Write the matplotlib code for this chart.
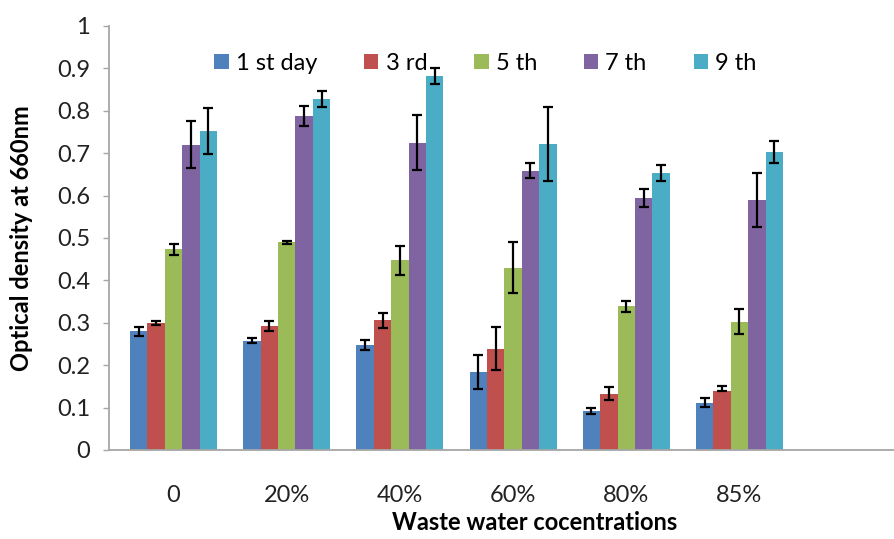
import numpy as np
import matplotlib
matplotlib.use("Agg")
import matplotlib.pyplot as plt

plt.rcParams['font.family'] = ['Lato', 'DejaVu Sans']

# waste water concentration groups
groups = ['0', '20%', '40%', '60%', '80%', '85%']
days = ['1 st day', '3 rd', '5 th', '7 th', '9 th']
colors = ['#4F81BD', '#C0504D', '#9BBB59', '#8064A2', '#4BACC6']

# optical density at 660nm, one list per day
day1 = [0.280, 0.258, 0.248, 0.185, 0.092, 0.112]
day3 = [0.300, 0.293, 0.306, 0.239, 0.133, 0.139]
day5 = [0.473, 0.490, 0.447, 0.430, 0.339, 0.303]
day7 = [0.720, 0.788, 0.725, 0.659, 0.595, 0.589]
day9 = [0.752, 0.828, 0.882, 0.722, 0.653, 0.703]

# error bar half widths
err1 = [0.011, 0.006, 0.011, 0.040, 0.008, 0.011]
err3 = [0.005, 0.012, 0.018, 0.051, 0.015, 0.013]
err5 = [0.013, 0.004, 0.034, 0.060, 0.013, 0.029]
err7 = [0.056, 0.024, 0.064, 0.017, 0.021, 0.064]
err9 = [0.055, 0.019, 0.019, 0.087, 0.018, 0.026]

values = [day1, day3, day5, day7, day9]
errors = [err1, err3, err5, err7, err9]

fig = plt.figure(figsize=(8.95, 5.39), dpi=100)
ax = fig.add_axes([109/895, 1-450/539, 786/895, 424/539])

x = np.arange(len(groups))
w = 0.1537
for i in range(len(days)):
    pos = x + (i - 2) * w
    err = np.array(errors[i])
    lower = err.copy()
    if i == 1:
        lower[5] = 0.0  # lower part hidden in the original
    ax.bar(pos, values[i], w, color=colors[i], label=days[i], zorder=2)
    ax.errorbar(pos, values[i], yerr=[lower, err], fmt='none', ecolor='black',
                elinewidth=1.6, capsize=3.8, capthick=1.6, zorder=3)

ax.set_xlim(-0.570, 6.374)
ax.set_ylim(0, 1)
ax.set_yticks(np.arange(0, 1.01, 0.1))
ax.set_yticklabels(['0'] + ['%.1f' % v for v in np.arange(0.1, 0.95, 0.1)] + ['1'])
ax.set_xticks(x)
ax.set_xticklabels(groups)

for s in ['top', 'right']:
    ax.spines[s].set_visible(False)
for s in ['left', 'bottom']:
    ax.spines[s].set_color('#A6A6A6')
    ax.spines[s].set_linewidth(1.3)

ax.tick_params(axis='y', length=4.5, color='#A6A6A6', width=1, pad=9,
               labelsize=17, labelcolor='#222222')
ax.tick_params(axis='x', length=0, pad=25, labelsize=17, labelcolor='#222222')

ax.set_ylabel('Optical density at 660nm', fontsize=17, fontweight='bold')
ax.yaxis.set_label_coords(-0.111, 0.5)
ax.yaxis.label.set_va('center')
ax.set_xlabel('Waste water cocentrations', fontsize=17, fontweight='bold')
ax.xaxis.set_label_coords(0.542, -0.172)
ax.xaxis.label.set_va('center')

ax.legend(loc='center left', bbox_to_anchor=(205/895, 1-63/539),
          bbox_transform=fig.transFigure, ncol=5, frameon=False,
          fontsize=17, handlelength=0.6, handleheight=0.6,
          handletextpad=0.3, columnspacing=2.0, borderaxespad=0)

fig.savefig('out.png', dpi=100)
